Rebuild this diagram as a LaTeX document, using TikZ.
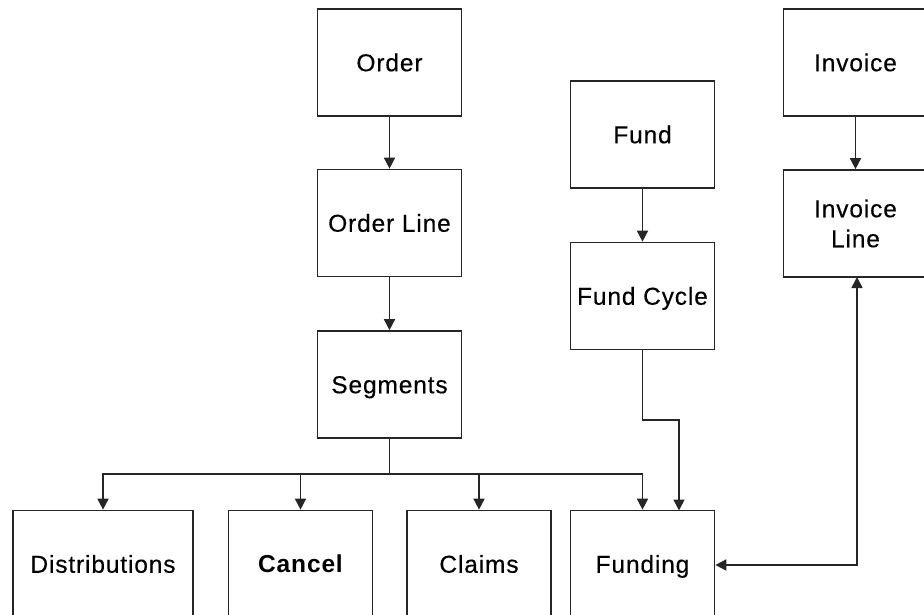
\documentclass[tikz,border=0pt]{standalone}
\usepackage{fontspec}
\setmainfont{Liberation Sans}[LetterSpace=3.5,FakeBold=0.3]
\newfontfamily\heavyfont{Liberation Sans Bold}[LetterSpace=3.5]
\usetikzlibrary{arrows.meta}
\begin{document}
\begin{tikzpicture}[x=1pt,y=-1pt,
  entity/.style={draw=black!85,line width=1.7pt,rectangle,minimum width=144pt,
    minimum height=107pt,inner sep=0pt,align=center,
    text height=20pt,text depth=2.5pt,
    font=\fontsize{24.5}{30}\selectfont},
  twoline/.style={text height=,text depth=},
  link/.style={draw=black!85,line width=1.7pt,
    -{Triangle[length=11pt,width=11pt]}},
  bilink/.style={draw=black!85,line width=1.7pt,
    {Triangle[length=11pt,width=11pt]}-{Triangle[length=11pt,width=11pt]}}]
\path[use as bounding box,fill=white] (0,0) rectangle (924,615);
\begin{scope}
\clip (0,0) rectangle (924,615);
% order chain
\node[entity] (order) at (389.5,62.5) {Order};
\node[entity] (orderline) at (389.5,223) {Order Line};
\node[entity] (segments) at (389.5,384.5) {Segments};
% fund chain
\node[entity] (fund) at (642.5,134.5) {Fund};
\node[entity] (fundcycle) at (642.5,296) {Fund Cycle};
% invoice chain
\node[entity] (invoice) at (855.5,62.5) {Invoice};
\node[entity,twoline] (invoiceline) at (855.5,223.5) {Invoice\\Line};
% segment children
\node[entity,minimum width=180pt] (distributions) at (103,564) {Distributions};
\node[entity] (cancel) at (300.5,564) {\heavyfont Cancel};
\node[entity] (claims) at (479,564) {Claims};
\node[entity] (funding) at (642.5,564) {Funding};

\draw[link] (order) -- (orderline);
\draw[link] (orderline) -- (segments);
\draw[link] (fund) -- (fundcycle);
\draw[link] (invoice) -- (invoiceline);

% fan-out from Segments
\coordinate (bus) at (389.5,474);
\draw[draw=black!85,line width=1.7pt] (segments.south) -- (bus);
\draw[link] (bus) -| (distributions.north);
\draw[link] (bus) -| (cancel.north);
\draw[link] (bus) -| (claims.north);
\draw[link] (bus) -| (funding.north);

% Fund Cycle into Funding
\coordinate (jog) at (642.5,420);
\draw[link] (fundcycle.south) -- (jog) -- (679,420) -- (679,510.5);

% Invoice Line <-> Funding
\coordinate (corner) at (857,565);
\draw[bilink] (funding.east |- corner) -- (corner) -- (857,277);
\end{scope}
\end{tikzpicture}
\end{document}
